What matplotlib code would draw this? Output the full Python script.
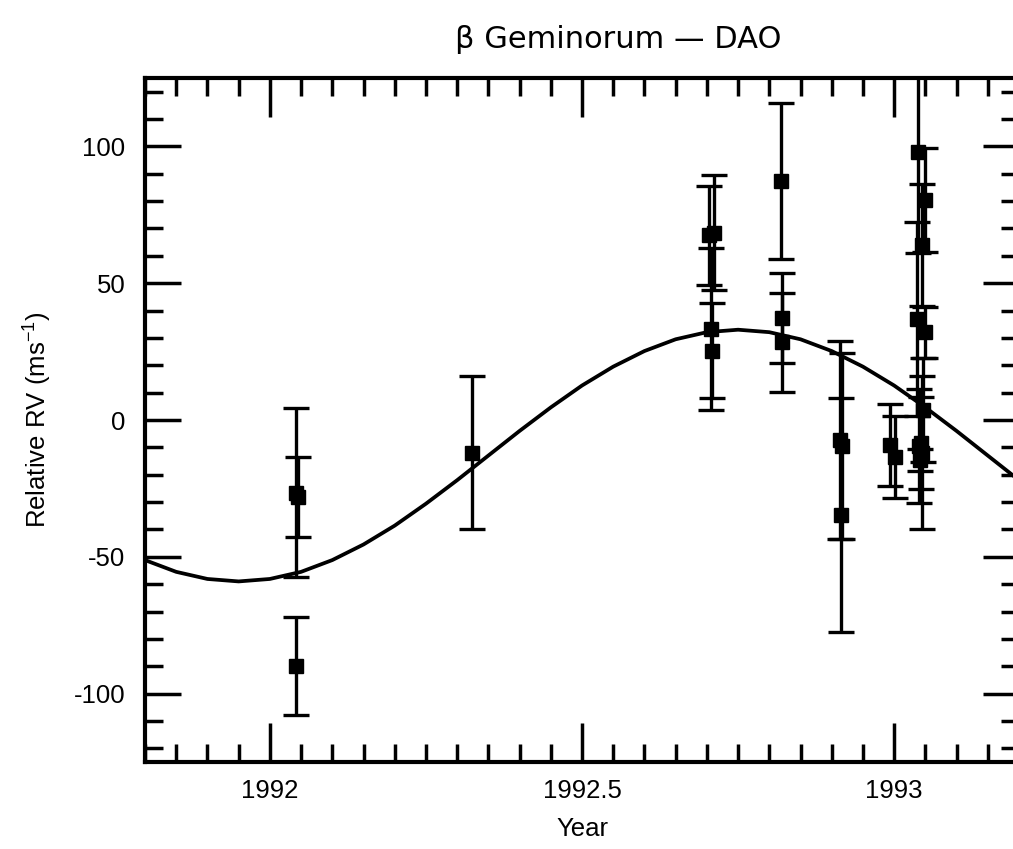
import numpy as np
import matplotlib.pyplot as plt
from matplotlib.ticker import MultipleLocator

plt.rcParams['font.family'] = ['Liberation Sans', 'DejaVu Sans']
plt.rcParams['mathtext.default'] = 'regular'
plt.rcParams['axes.unicode_minus'] = False

year = [1992.042, 1992.045, 1992.042,
        1992.324,
        1992.704, 1992.712, 1992.706, 1992.709,
        1992.818, 1992.821, 1992.820,
        1992.913, 1992.917, 1992.915,
        1992.994, 1993.002,
        1993.039, 1993.050, 1993.045, 1993.037, 1993.050,
        1993.046, 1993.043, 1993.040, 1993.045, 1993.042]
rv = [-26.5, -28.0, -90.0,
      -12.0,
      67.5, 68.5, 33.2, 25.4,
      87.3, 37.4, 28.4,
      -7.3, -9.5, -34.8,
      -9.2, -13.5,
      98.0, 80.5, 64.0, 37.0, 32.0,
      3.7, -8.5, -9.5, -12.0, -14.5]
err = [31.0, 14.6, 18.0,
       28.0,
       18.2, 21.0, 29.5, 17.4,
       28.6, 16.4, 18.1,
       36.3, 34.0, 42.8,
       15.1, 15.1,
       37.0, 19.0, 22.4, 35.5, 9.3,
       19.0, 16.9, 21.0, 28.0, 4.0]

# orbital fit curve, sampled off the plot every 0.05 yr
fit_year = [1991.80, 1991.85, 1991.90, 1991.95, 1992.00, 1992.05, 1992.10,
            1992.15, 1992.20, 1992.25, 1992.30, 1992.35, 1992.40, 1992.45,
            1992.50, 1992.55, 1992.60, 1992.65, 1992.70, 1992.75, 1992.80,
            1992.85, 1992.90, 1992.95, 1993.00, 1993.05, 1993.10, 1993.15,
            1993.20]
fit_rv = [-51.2, -55.5, -58.1, -59.0, -58.1, -55.5, -51.2,
          -45.5, -38.6, -30.6, -22.0, -13.0, -4.0, 4.6,
          12.6, 19.5, 25.2, 29.5, 32.1, 33.0, 32.1,
          29.5, 25.2, 19.5, 12.6, 4.6, -4.0, -13.0,
          -22.0]

fig = plt.figure(figsize=(10.13, 8.49), dpi=100)
ax = fig.add_axes([145/1013, 87/849, 874/1013, 684/849])

ax.plot(fit_year, fit_rv, color='black', lw=2.7, zorder=2)
ax.errorbar(year, rv, yerr=err, fmt='s', color='black', ms=10,
            elinewidth=2.4, capsize=9.5, capthick=2.4, zorder=3)

ax.set_xlim(1991.8, 1993.2)
ax.set_ylim(-125, 125)
ax.xaxis.set_major_locator(MultipleLocator(0.5))
ax.xaxis.set_minor_locator(MultipleLocator(0.05))
ax.yaxis.set_major_locator(MultipleLocator(50))
ax.yaxis.set_minor_locator(MultipleLocator(10))
ax.set_xticks([1992, 1992.5, 1993])
ax.set_xticklabels(['1992', '1992.5', '1993'])

ax.tick_params(which='both', direction='in', top=True, right=True,
               width=2.5, labelsize=18.5)
ax.tick_params(axis='x', which='major', length=28, pad=12)
ax.tick_params(axis='y', which='major', length=26, pad=14)
ax.tick_params(which='minor', length=13)
for s in ax.spines.values():
    s.set_linewidth(3.0)

ax.set_xlabel('Year', fontsize=18.5, labelpad=10)
ax.set_ylabel('Relative RV (ms$^{-1}$)', fontsize=18.5, labelpad=14)
fig.text(0.61, 0.953, '\u03b2 Geminorum \u2014 DAO', ha='center',
         va='center', fontsize=22, family=['DejaVu Sans'])

plt.savefig('out.png', dpi=100)
